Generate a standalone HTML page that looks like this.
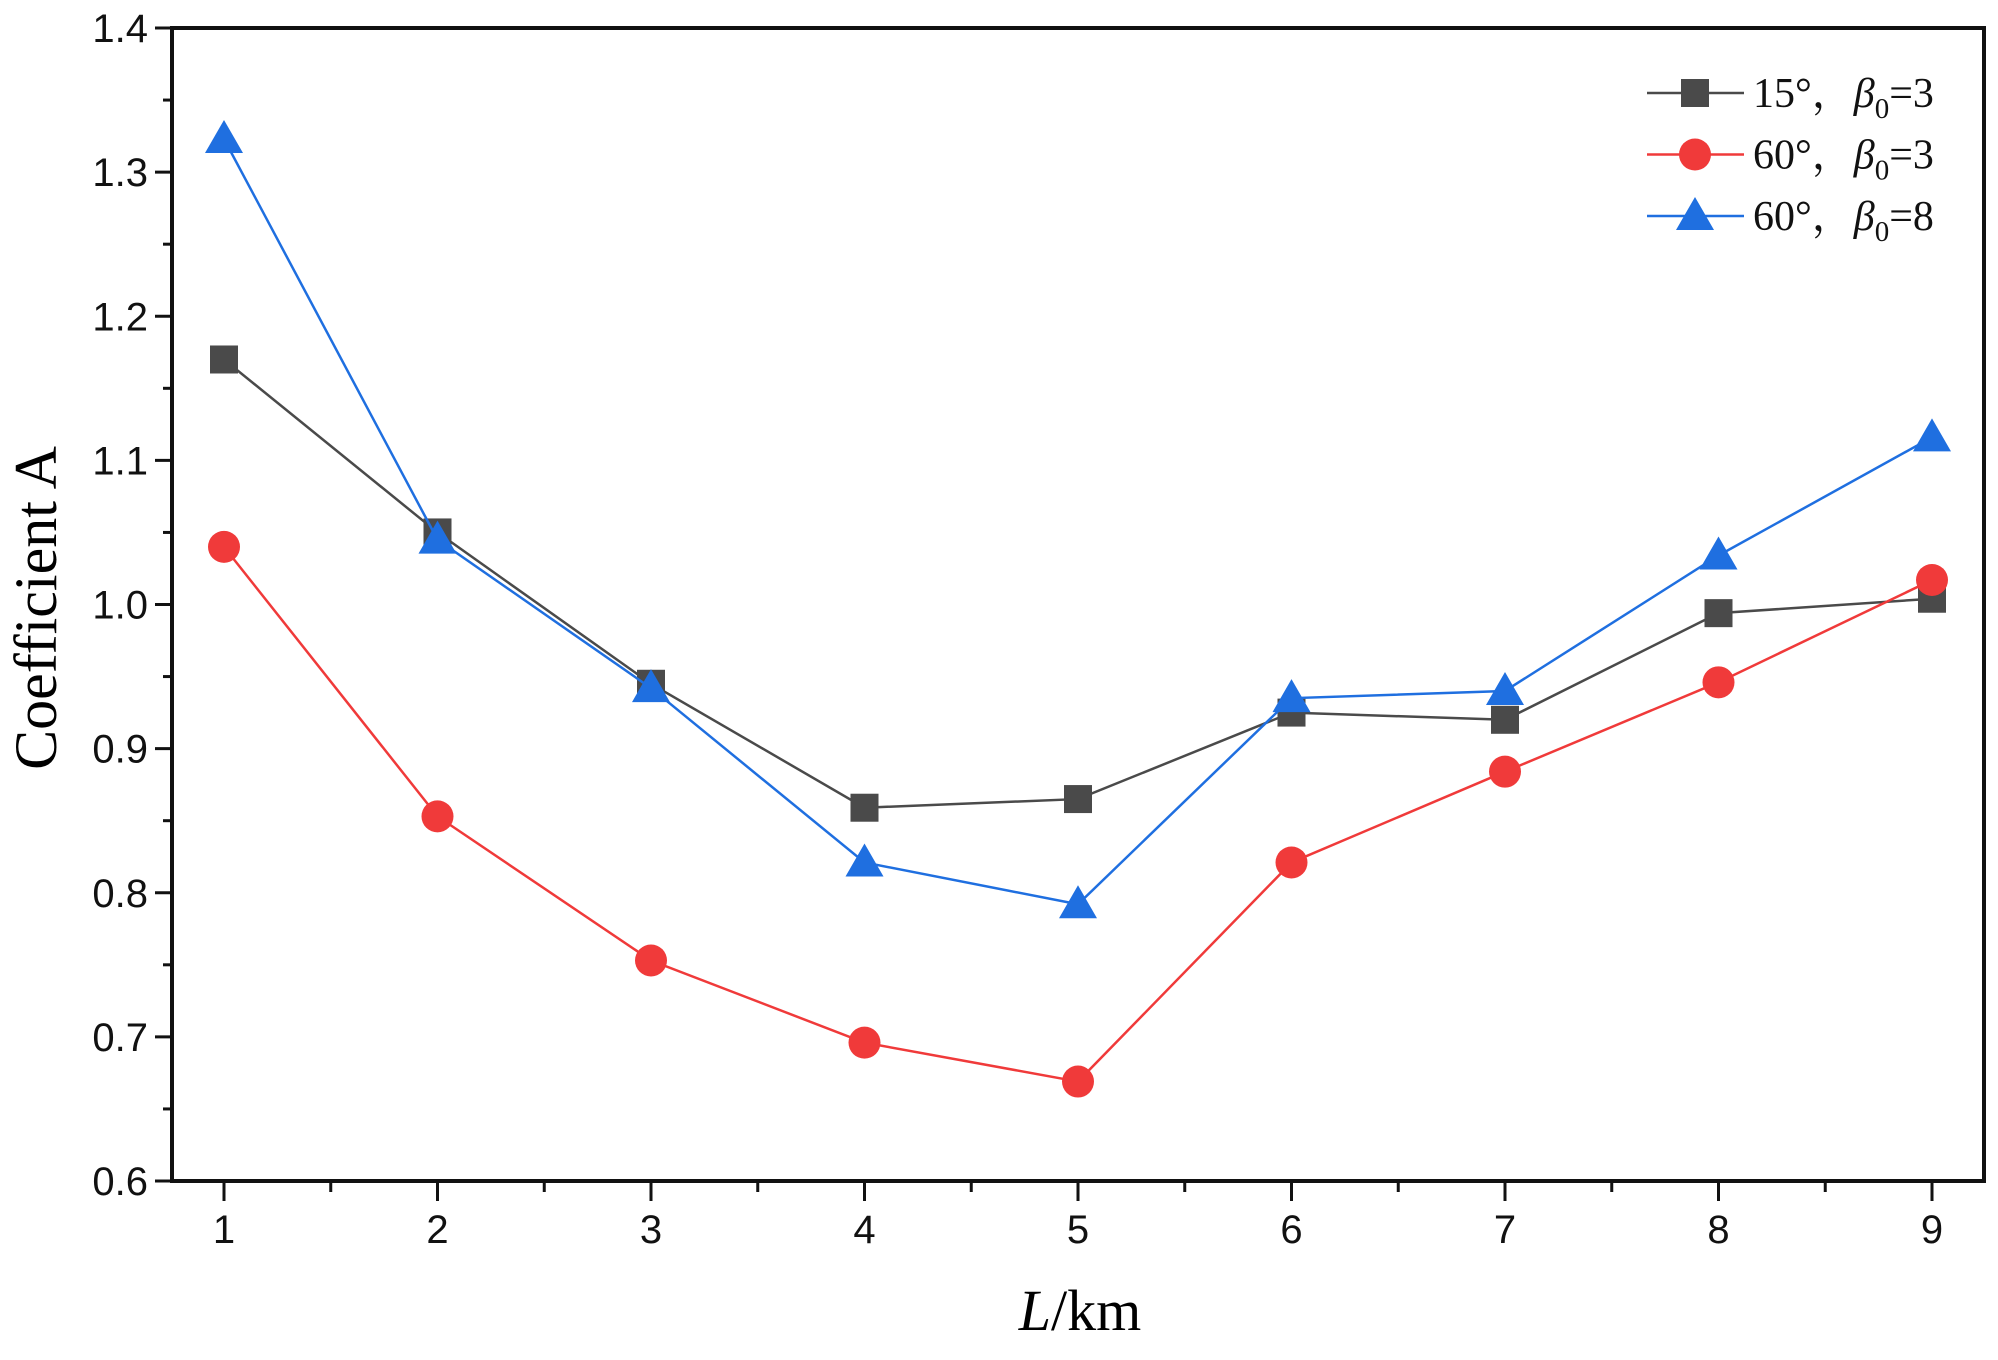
<!DOCTYPE html>
<html><head><meta charset="utf-8"><style>
html,body{margin:0;padding:0;background:#fff;}
svg text{font-family:"Liberation Sans",sans-serif;}
</style></head><body>
<svg id="chart" width="1998" height="1355" viewBox="0 0 1998 1355" xmlns="http://www.w3.org/2000/svg">
<g id="axes"></g>
<g id="series"></g>
<g id="legend"></g>
<text x="56" y="608" font-size="60" transform="rotate(-90 56 608)" text-anchor="middle" style="font-family:'Liberation Serif',serif">Coefficient A</text>
<text x="1080" y="1330" font-size="58" text-anchor="middle" style="font-family:'Liberation Serif',serif"><tspan font-style="italic">L</tspan>/km</text>
</svg>
<script>
const categories=[1,2,3,4,5,6,7,8,9];
const s15b3=[1.17,1.05,0.945,0.859,0.865,0.925,0.92,0.994,1.004];
const s60b3=[1.04,0.853,0.753,0.696,0.669,0.821,0.884,0.946,1.017];
const s60b8=[1.323,1.045,0.942,0.821,0.792,0.935,0.94,1.034,1.116];
const yTicks=["0.6","0.7","0.8","0.9","1.0","1.1","1.2","1.3","1.4"];
const xTicks=["1","2","3","4","5","6","7","8","9"];
const NS="http://www.w3.org/2000/svg";
const L=172,R=1984,T=28,B=1181;
function xs(v){return 224+(v-1)*213.5;}
function ys(v){return B-(v-0.6)/0.8*(B-T);}
function mk(tag,attrs,parent){const e=document.createElementNS(NS,tag);for(const k in attrs)e.setAttribute(k,attrs[k]);parent.appendChild(e);return e;}
const ax=document.getElementById('axes');
let f=mk('path',{d:`M${L} ${T}H${R}V${B}H${L}Z`,fill:'none',stroke:'#111','stroke-width':4},ax);


yTicks.forEach((t,i)=>{const v=parseFloat(t);const y=ys(v);
 let l=mk('line',{x1:L-17,x2:L,y1:y,y2:y,stroke:'#111','stroke-width':3},ax);
 
 
 if(i<yTicks.length-1){let m=mk('line',{x1:L-9,x2:L,y1:ys(v+0.05),y2:ys(v+0.05),stroke:'#111','stroke-width':3},ax);
 
 }
 let tx=mk('text',{x:L-24,y:y+14,'font-size':40,'text-anchor':'end',fill:'#111'},ax);tx.textContent=t;
 
 
});
xTicks.forEach((t,i)=>{const x=xs(categories[i]);
 let l=mk('line',{x1:x,x2:x,y1:B,y2:B+20,stroke:'#111','stroke-width':3},ax);
 
 
 if(i<xTicks.length-1){let m=mk('line',{x1:x+106.75,x2:x+106.75,y1:B,y2:B+11,stroke:'#111','stroke-width':3},ax);
 
 }
 let tx=mk('text',{x:x,y:B+62,'font-size':40,'text-anchor':'middle',fill:'#111'},ax);tx.textContent=t;
 
 
});
function marker(type,x,y,color,parent){
 if(type==='sq')return mk('rect',{x:x-14,y:y-14,width:28,height:28,fill:color},parent);
 if(type==='ci')return mk('circle',{cx:x,cy:y,r:16,fill:color},parent);
 return mk('path',{d:`M${x} ${y-19}L${x+19} ${y+14}L${x-19} ${y+14}Z`,fill:color},parent);
}
const sg=document.getElementById('series');
const defs=[[s15b3,'#4a4a4a','sq','series-15deg-b3'],[s60b3,'#f03a3a','ci','series-60deg-b3'],[s60b8,'#1f6fe0','tr','series-60deg-b8']];
defs.forEach(([d,c,m,n])=>{
 const g=mk('g',{},sg);
 
 
 let p=mk('polyline',{points:d.map((v,i)=>xs(categories[i])+','+ys(v)).join(' '),fill:'none',stroke:c,'stroke-width':2.5},g);
 
 
 d.forEach((v,i)=>{let e=marker(m,xs(categories[i]),ys(v),c,g);
  
  });
});
const lg=document.getElementById('legend');
const labels=[["15°，","3"],["60°，","3"],["60°，","8"]];
defs.forEach(([d,c,m,n],i)=>{const y=93+i*61.5;
 const g=mk('g',{},lg);
 
 
 mk('line',{x1:1647,x2:1744,y1:y,y2:y,stroke:c,'stroke-width':2.5},g);
 marker(m,1695,y,c,g);
 const t=mk('text',{x:1753,y:y+14,'font-size':42,fill:'#111',style:"font-family:'Liberation Serif','Noto Serif CJK SC',serif"},g);
 t.innerHTML=labels[i][0]+'<tspan font-style="italic">β</tspan><tspan font-size="29" dy="11">0</tspan><tspan dy="-11">='+labels[i][1]+'</tspan>';
});
</script>
</body></html>
